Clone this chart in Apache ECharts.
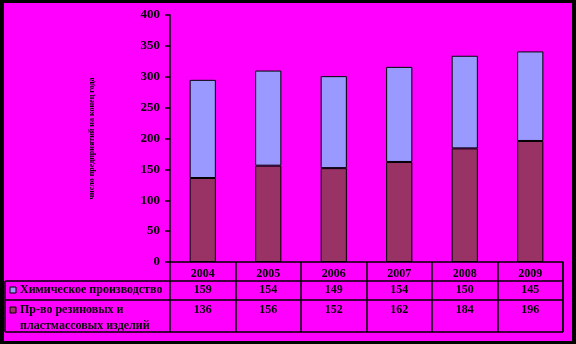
<!DOCTYPE html>
<html>
<head>
<meta charset="utf-8">
<script src="https://cdn.jsdelivr.net/npm/echarts@6/dist/echarts.min.js"></script>
<style>
  html, body { margin: 0; padding: 0; background: #000; }
  #chart { width: 576px; height: 344px; }
</style>
</head>
<body>
<div id="chart"></div>
<script>
// Years shown in the header row of the data table
const years = ['2004', '2005', '2006', '2007', '2008', '2009'];
// Series names (table row headers)
const chemName = 'Химическое производство';
const rubberName = 'Пр-во резиновых и пластмассовых изделий';
const rubberNameLines = ['Пр-во резиновых и', 'пластмассовых изделий'];
// Values per year
const chemValues = [159, 154, 149, 154, 150, 145];
const rubberValues = [136, 156, 152, 162, 184, 196];
// Value axis ticks
const yTicks = [0, 50, 100, 150, 200, 250, 300, 350, 400];
const yTitle = 'число предприятий на конец года';

const FONT = 'Liberation Serif, Times New Roman, serif';
const chemColor = '#9999FF';
const rubberColor = '#993366';

const chart = echarts.init(document.getElementById('chart'), null, { renderer: 'canvas' });

const option = {
  backgroundColor: '#000000',
  animation: false,
  grid: { left: 170, top: 15, right: 13, bottom: 82, containLabel: false },
  xAxis: {
    type: 'category',
    data: years,
    axisLine: { show: true, lineStyle: { color: '#000', width: 1.5 } },
    axisTick: { show: true, length: 70, inside: false, lineStyle: { color: '#000', width: 1.5 } },
    axisLabel: {
      show: true, margin: 6, color: '#000', fontFamily: FONT, fontWeight: 'bold', fontSize: 12
    },
    splitLine: { show: false }
  },
  yAxis: {
    type: 'value',
    min: yTicks[0],
    max: yTicks[yTicks.length - 1],
    interval: yTicks[1] - yTicks[0],
    name: yTitle,
    nameLocation: 'middle',
    nameGap: 74,
    nameRotate: 90,
    nameTextStyle: { color: '#000', fontFamily: FONT, fontSize: 8, fontWeight: 'bold' },
    axisLine: { show: true, lineStyle: { color: '#000', width: 1.5 } },
    axisTick: { show: true, length: 5, lineStyle: { color: '#000', width: 1.5 } },
    axisLabel: { color: '#000', fontFamily: FONT, fontWeight: 'bold', fontSize: 13, margin: 10 },
    splitLine: { show: false }
  },
  series: [
    {
      name: rubberName,
      type: 'bar',
      stack: 'total',
      barWidth: '40%',
      data: rubberValues,
      itemStyle: { color: rubberColor, borderColor: '#000', borderWidth: 1 }
    },
    {
      name: chemName,
      type: 'bar',
      stack: 'total',
      barWidth: '40%',
      data: chemValues,
      itemStyle: { color: chemColor, borderColor: '#000', borderWidth: 1 }
    }
  ]
};

chart.setOption(option);

// Frame, table grid and table text
function buildTable() {
  const g = [];
  // magenta panel inside the black frame
  g.push({ type: 'rect', z: -10, silent: true,
    shape: { x: 4, y: 3, width: 568, height: 338 },
    style: { fill: '#FF00FF' } });

  const tableLeft = 5, tableRight = 563;
  const rowTops = [281, 300, 332];
  rowTops.forEach(function (y) {
    g.push({ type: 'line', silent: true, z: 10,
      shape: { x1: tableLeft, y1: y, x2: tableRight, y2: y },
      style: { stroke: '#000', lineWidth: 1.5 } });
  });
  g.push({ type: 'line', silent: true, z: 10,
    shape: { x1: tableLeft, y1: 281, x2: tableLeft, y2: 332 },
    style: { stroke: '#000', lineWidth: 1.5 } });
  g.push({ type: 'line', silent: true, z: 10,
    shape: { x1: tableRight, y1: 262, x2: tableRight, y2: 332 },
    style: { stroke: '#000', lineWidth: 1.5 } });

  // legend keys
  g.push({ type: 'rect', z: 10, silent: true,
    shape: { x: 10, y: 287, width: 6, height: 6 },
    style: { fill: chemColor, stroke: '#000', lineWidth: 1 } });
  g.push({ type: 'rect', z: 10, silent: true,
    shape: { x: 10, y: 307, width: 6, height: 6 },
    style: { fill: rubberColor, stroke: '#000', lineWidth: 1 } });

  const textBase = { fill: '#000', fontFamily: FONT, fontWeight: 'bold', fontSize: 12 };
  g.push({ type: 'text', z: 10, silent: true, x: 20, y: 290,
    style: Object.assign({ text: chemName, textVerticalAlign: 'middle' }, textBase) });
  g.push({ type: 'text', z: 10, silent: true, x: 20, y: 310,
    style: Object.assign({ text: rubberNameLines[0], textVerticalAlign: 'middle' }, textBase) });
  g.push({ type: 'text', z: 10, silent: true, x: 20, y: 326,
    style: Object.assign({ text: rubberNameLines[1], textVerticalAlign: 'middle' }, textBase) });

  years.forEach(function (yr, i) {
    const cx = chart.convertToPixel({ xAxisIndex: 0 }, yr);
    g.push({ type: 'text', z: 10, silent: true, x: cx, y: 290,
      style: Object.assign({ text: String(chemValues[i]), textAlign: 'center', textVerticalAlign: 'middle' }, textBase) });
    g.push({ type: 'text', z: 10, silent: true, x: cx, y: 310,
      style: Object.assign({ text: String(rubberValues[i]), textAlign: 'center', textVerticalAlign: 'middle' }, textBase) });
  });
  return g;
}

chart.setOption({ graphic: buildTable() });
</script>
</body>
</html>
